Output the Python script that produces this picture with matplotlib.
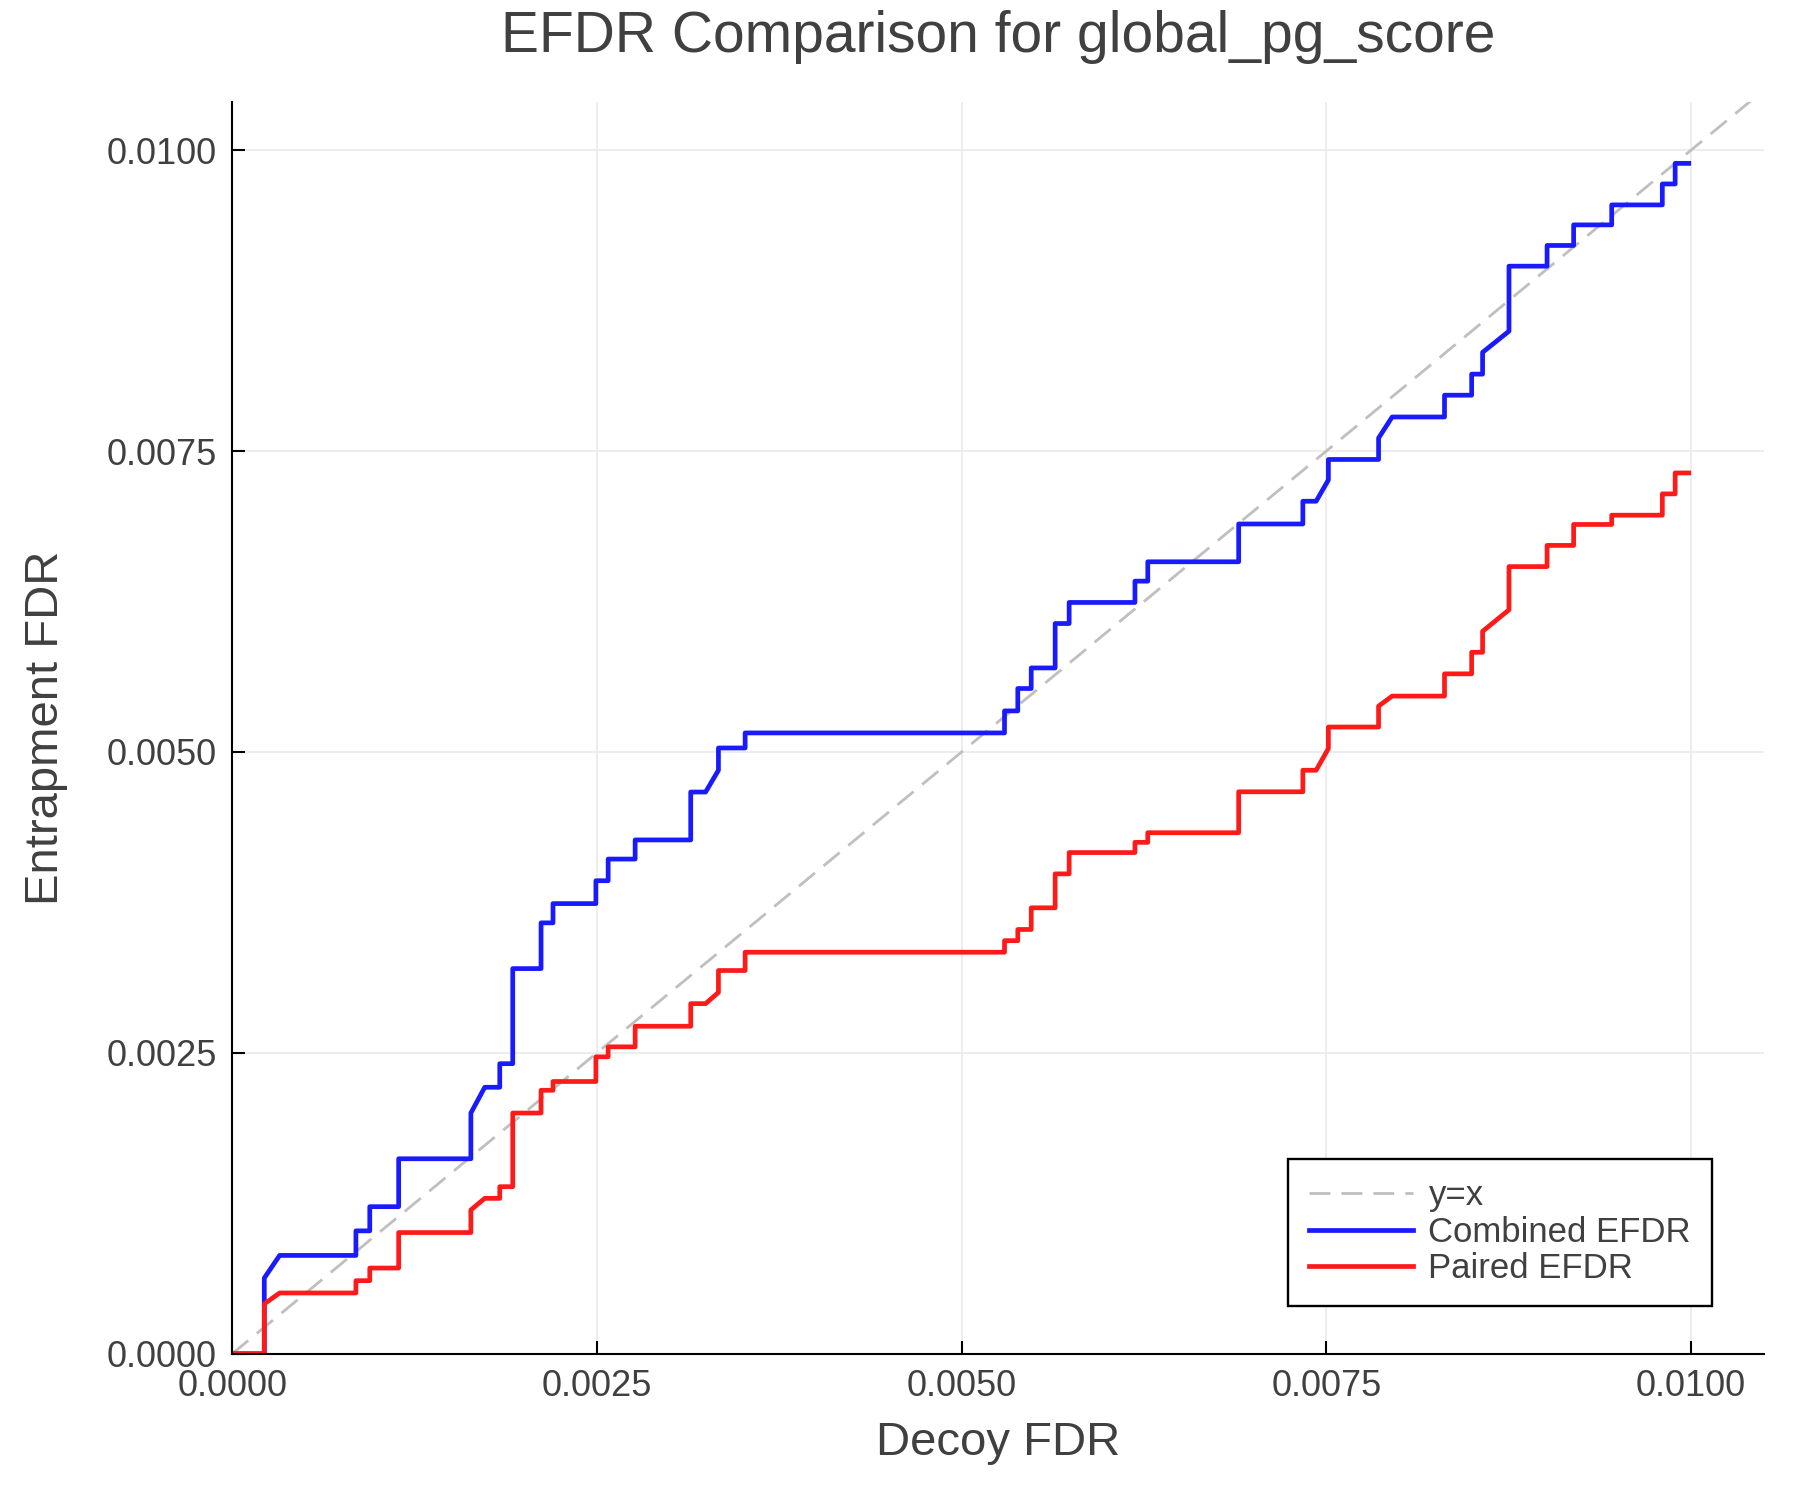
import matplotlib
matplotlib.use("Agg")
import matplotlib.pyplot as plt
import numpy as np

# decoy FDR (x) shared by both curves
decoy_fdr = [
    0.0, 0.00022, 0.00022, 0.000325, 0.000848, 0.000848, 0.000943, 0.000943,
    0.001141, 0.001141, 0.001636, 0.001636, 0.001731, 0.001834, 0.001834, 0.001923,
    0.001923, 0.002117, 0.002117, 0.002199, 0.002199, 0.002493, 0.002493, 0.002577,
    0.002577, 0.002762, 0.002762, 0.003143, 0.003143, 0.003245, 0.003333, 0.003333,
    0.003516, 0.003516, 0.005294, 0.005294, 0.005385, 0.005385, 0.005477, 0.005477,
    0.005641, 0.005641, 0.005737, 0.005737, 0.006188, 0.006188, 0.006276, 0.006276,
    0.006899, 0.006899, 0.007339, 0.007339, 0.00743, 0.007514, 0.007514, 0.007858,
    0.007858, 0.007951, 0.00831, 0.00831, 0.008496, 0.008496, 0.008571, 0.008571,
    0.008752, 0.008752, 0.009013, 0.009013, 0.009195, 0.009195, 0.009456, 0.009456,
    0.009803, 0.009803, 0.009891, 0.009891, 0.009984,
]

combined_efdr = [
    0.0, 0.0, 0.000629, 0.000817, 0.000817, 0.001021, 0.001021, 0.001222,
    0.001222, 0.00162, 0.00162, 0.002, 0.002214, 0.002214, 0.00241, 0.00241,
    0.0032, 0.0032, 0.00358, 0.00358, 0.00374, 0.00374, 0.00393, 0.00393,
    0.00411, 0.00411, 0.004269, 0.004269, 0.004667, 0.004667, 0.004848, 0.005033,
    0.005033, 0.005158, 0.005158, 0.005341, 0.005341, 0.005527, 0.005527, 0.005698,
    0.005698, 0.006067, 0.006067, 0.006242, 0.006242, 0.006419, 0.006419, 0.00658,
    0.00658, 0.006894, 0.006894, 0.007083, 0.007083, 0.00726, 0.00743, 0.00743,
    0.007608, 0.007783, 0.007783, 0.007964, 0.007964, 0.008139, 0.008139, 0.00832,
    0.008496, 0.009036, 0.009036, 0.009208, 0.009208, 0.009379, 0.009379, 0.009545,
    0.009545, 0.009719, 0.009719, 0.00989, 0.00989,
]

paired_efdr = [
    0.0, 0.0, 0.000414, 0.000505, 0.000505, 0.000607, 0.000607, 0.000712,
    0.000712, 0.001007, 0.001007, 0.001195, 0.001291, 0.001291, 0.001388, 0.001388,
    0.002, 0.002, 0.002189, 0.002189, 0.002262, 0.002262, 0.002467, 0.002467,
    0.00255, 0.00255, 0.002721, 0.002721, 0.002909, 0.002909, 0.003002, 0.003184,
    0.003184, 0.003336, 0.003336, 0.003432, 0.003432, 0.003525, 0.003525, 0.003705,
    0.003705, 0.003987, 0.003987, 0.004164, 0.004164, 0.004249, 0.004249, 0.004329,
    0.004329, 0.004669, 0.004669, 0.004848, 0.004848, 0.005028, 0.005207, 0.005207,
    0.005381, 0.005464, 0.005464, 0.005649, 0.005649, 0.005828, 0.005828, 0.006002,
    0.006181, 0.00654, 0.00654, 0.006716, 0.006716, 0.00689, 0.00689, 0.006967,
    0.006967, 0.007144, 0.007144, 0.007318, 0.007318,
]

tick_vals = [0.0, 0.0025, 0.005, 0.0075, 0.01]
tick_labels = ["0.0000", "0.0025", "0.0050", "0.0075", "0.0100"]
diag = [0.0, 0.0106]

TEXT = "#404040"
plt.rcParams["font.family"] = ["Liberation Sans", "DejaVu Sans"]

fig = plt.figure(figsize=(18, 15), dpi=100)
ax = fig.add_axes([0.129, 0.0975, 0.851, 0.8345])

ax.plot(diag, diag, color="#bfbfbf", lw=2.0, dashes=(7.5, 4), label="y=x")
ax.plot(decoy_fdr, combined_efdr, color="#1a1aff", lw=3.4, label="Combined EFDR")
ax.plot(decoy_fdr, paired_efdr, color="#ff1a1a", lw=3.4, label="Paired EFDR")

ax.set_xlim(0, 0.0105)
ax.set_ylim(0, 0.0104)
ax.set_xticks(tick_vals)
ax.set_xticklabels(tick_labels)
ax.set_yticks(tick_vals)
ax.set_yticklabels(tick_labels)

ax.grid(True, color="#e8e8e8", lw=1.1)
ax.set_axisbelow(True)
for s in ["top", "right"]:
    ax.spines[s].set_visible(False)
for s in ["left", "bottom"]:
    ax.spines[s].set_linewidth(1.5)
ax.tick_params(direction="in", length=9.5, width=1.5, labelsize=26,
               labelcolor=TEXT, pad=11)

ax.set_title("EFDR Comparison for global_pg_score", fontsize=41, color=TEXT, pad=36)
ax.set_xlabel("Decoy FDR", fontsize=34, color=TEXT, labelpad=12)
ax.set_ylabel("Entrapment FDR", fontsize=34, color=TEXT, labelpad=28)

leg = ax.legend(loc="lower right", bbox_to_anchor=(0.966, 0.038), borderaxespad=0,
                fontsize=25, fancybox=False, framealpha=1, edgecolor="black",
                handlelength=3.0, handletextpad=0.45, labelspacing=0.1,
                borderpad=0.6)
leg.get_frame().set_linewidth(1.7)
for t in leg.get_texts():
    t.set_color(TEXT)

fig.savefig("out.png", dpi=100)
